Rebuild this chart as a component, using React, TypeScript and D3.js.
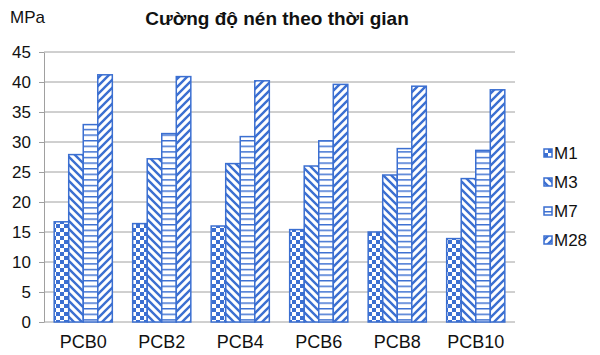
import React, { useRef, useEffect } from 'react';
import * as d3 from 'd3';

const categories = ['PCB0', 'PCB2', 'PCB4', 'PCB6', 'PCB8', 'PCB10'];
const seriesNames = ['M1', 'M3', 'M7', 'M28'];
const m1 = [16.7, 16.4, 16.0, 15.4, 15.0, 13.9];
const m3 = [27.9, 27.2, 26.4, 26.0, 24.5, 23.9];
const m7 = [32.9, 31.4, 30.9, 30.2, 28.9, 28.6];
const m28 = [41.2, 40.9, 40.2, 39.6, 39.3, 38.7];
const yTicks = [0, 5, 10, 15, 20, 25, 30, 35, 40, 45];

const BLUE = '#3b6fd1';
const GRID = '#a0a0a0';
const FONT = 'Liberation Sans, Arial, sans-serif';

const App: React.FC = () => {
    const svgRef = useRef<SVGSVGElement | null>(null);

    useEffect(() => {
        if (!svgRef.current) return;
        const width = 600;
        const height = 355;
        const svg = d3.select(svgRef.current);
        svg.selectAll('*').remove();
        svg.attr('viewBox', `0 0 ${width} ${height}`);

        const values = [m1, m3, m7, m28];

        // --- PATTERNS ---
        const defs = svg.append('defs');
        const p1 = defs.append('pattern').attr('id', 'pat-M1').attr('patternUnits', 'userSpaceOnUse')
            .attr('width', 8).attr('height', 8);
        p1.append('rect').attr('width', 8).attr('height', 8).attr('fill', 'white');
        p1.append('rect').attr('width', 4).attr('height', 4).attr('fill', BLUE);
        p1.append('rect').attr('x', 4).attr('y', 4).attr('width', 4).attr('height', 4).attr('fill', BLUE);

        const p3 = defs.append('pattern').attr('id', 'pat-M3').attr('patternUnits', 'userSpaceOnUse')
            .attr('width', 8).attr('height', 8);
        p3.append('rect').attr('width', 8).attr('height', 8).attr('fill', 'white');
        p3.append('path').attr('d', 'M-2,-2 L10,10 M-2,6 L2,10 M6,-2 L10,2')
            .attr('stroke', BLUE).attr('stroke-width', 2.4);

        const p7 = defs.append('pattern').attr('id', 'pat-M7').attr('patternUnits', 'userSpaceOnUse')
            .attr('width', 8).attr('height', 5.6);
        p7.append('rect').attr('width', 8).attr('height', 5.6).attr('fill', 'white');
        p7.append('path').attr('d', 'M0,0.7 L8,0.7').attr('stroke', BLUE).attr('stroke-width', 1.5);

        const p28 = defs.append('pattern').attr('id', 'pat-M28').attr('patternUnits', 'userSpaceOnUse')
            .attr('width', 8).attr('height', 8);
        p28.append('rect').attr('width', 8).attr('height', 8).attr('fill', 'white');
        p28.append('path').attr('d', 'M-2,10 L10,-2 M-2,2 L2,-2 M6,10 L10,6')
            .attr('stroke', BLUE).attr('stroke-width', 2.4);

        // --- SCALES ---
        const x0 = d3.scaleBand().domain(categories).range([44, 515]).padding(0);
        const x1 = d3.scaleBand().domain(seriesNames).range([0, x0.bandwidth()]).paddingInner(0).paddingOuter(0.7);
        const y = d3.scaleLinear().domain([0, 45]).range([322, 52]);

        // --- GRID ---
        svg.append('g').selectAll('line.grid')
            .data(yTicks)
            .join('line')
            .attr('class', 'grid')
            .attr('x1', 44).attr('x2', 515)
            .attr('y1', d => y(d)).attr('y2', d => y(d))
            .attr('stroke', GRID).attr('stroke-width', 1);

        // --- Y AXIS ---
        const yAxis = svg.append('g')
            .attr('transform', 'translate(44,0)')
            .call(d3.axisLeft(y).tickValues(yTicks).tickSize(5).tickPadding(8).tickSizeOuter(0));
        yAxis.select('.domain').attr('stroke', GRID);
        yAxis.selectAll('.tick line').attr('stroke', GRID);
        yAxis.selectAll('.tick text')
            .attr('font-family', FONT).attr('font-size', 17).attr('fill', '#111');

        // --- BARS ---
        seriesNames.forEach((s, si) => {
            svg.append('g').selectAll('rect')
                .data(values[si])
                .join('rect')
                .attr('x', (_, i) => (x0(categories[i]) ?? 0) + (x1(s) ?? 0))
                .attr('y', d => y(d))
                .attr('width', x1.bandwidth())
                .attr('height', d => y(0) - y(d))
                .attr('fill', `url(#pat-${s})`)
                .attr('stroke', BLUE)
                .attr('stroke-width', 1.5);
        });

        // --- X AXIS ---
        const xAxis = svg.append('g')
            .attr('transform', `translate(0,${y(0)})`)
            .call(d3.axisBottom(x0).tickSize(0).tickPadding(13));
        xAxis.select('.domain').remove();
        xAxis.selectAll('.tick text')
            .attr('font-family', FONT).attr('font-size', 18).attr('fill', '#111');

        // --- TITLE / UNIT ---
        svg.append('text')
            .attr('x', 277).attr('y', 25)
            .attr('text-anchor', 'middle')
            .attr('font-family', FONT).attr('font-size', 19).attr('font-weight', 'bold')
            .attr('fill', '#111')
            .text('Cường độ nén theo thời gian');
        svg.append('text')
            .attr('x', 10).attr('y', 23)
            .attr('font-family', FONT).attr('font-size', 17)
            .attr('fill', '#111')
            .text('MPa');

        // --- LEGEND ---
        const legendY = d3.scalePoint().domain(seriesNames).range([153, 240]);
        const lg = svg.append('g').selectAll('g.leg')
            .data(seriesNames)
            .join('g')
            .attr('class', 'leg')
            .attr('transform', d => `translate(544,${legendY(d)})`);
        lg.append('rect')
            .attr('x', 0).attr('y', -4).attr('width', 8).attr('height', 8)
            .attr('fill', d => `url(#pat-${d})`)
            .attr('stroke', BLUE).attr('stroke-width', 1.5);
        lg.append('text')
            .attr('x', 10).attr('y', 6)
            .attr('font-family', FONT).attr('font-size', 17).attr('fill', '#111')
            .text(d => d);
    }, []);

    return (
        <div style={{ position: 'absolute', left: 0, top: 0, width: 600, height: 355, background: 'white' }}>
            <svg ref={svgRef} width={600} height={355} style={{ display: 'block' }}></svg>
        </div>
    );
};

export default App;
